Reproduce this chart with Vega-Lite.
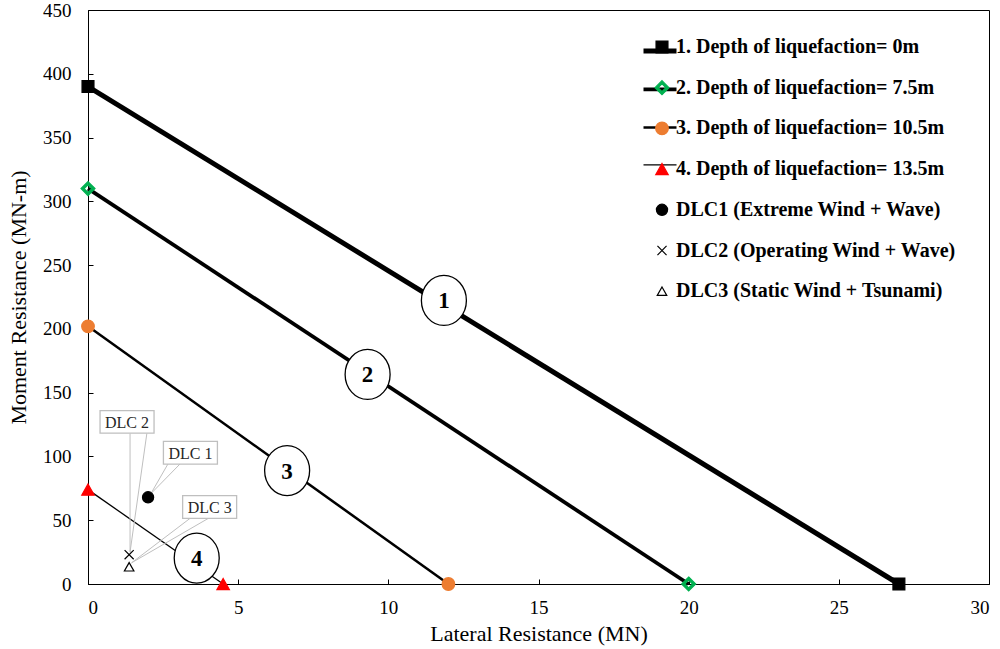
{
  "$schema": "https://vega.github.io/schema/vega-lite/v6.json",
  "width": 901,
  "height": 574,
  "autosize": {"type": "none"},
  "padding": {"left": 88, "top": 10, "right": 11, "bottom": 65},
  "background": "white",
  "config": {
    "view": {"stroke": "black", "strokeWidth": 1},
    "font": "Liberation Serif",
    "axis": {
      "grid": false,
      "domainColor": "black",
      "tickColor": "black",
      "labelColor": "black",
      "titleColor": "black",
      "labelFont": "Liberation Serif",
      "titleFont": "Liberation Serif",
      "labelFontSize": 19,
      "titleFontSize": 22,
      "titleFontWeight": "normal",
      "tickSize": -5
    }
  },
  "datasets": {
    "points": [
      {"label": "1. Depth of liquefaction= 0m", "x": 0, "y": 390},
      {"label": "1. Depth of liquefaction= 0m", "x": 27, "y": 0},
      {"label": "2. Depth of liquefaction= 7.5m", "x": 0, "y": 310},
      {"label": "2. Depth of liquefaction= 7.5m", "x": 20, "y": 0},
      {"label": "3. Depth of liquefaction= 10.5m", "x": 0, "y": 202},
      {"label": "3. Depth of liquefaction= 10.5m", "x": 12, "y": 0},
      {"label": "4. Depth of liquefaction= 13.5m", "x": 0, "y": 74},
      {"label": "4. Depth of liquefaction= 13.5m", "x": 4.5, "y": 0},
      {"label": "DLC1 (Extreme Wind + Wave)", "x": 2.0, "y": 68},
      {"label": "DLC2 (Operating Wind + Wave)", "x": 1.37, "y": 23},
      {"label": "DLC3 (Static Wind + Tsunami)", "x": 1.37, "y": 13.5}
    ],
    "bubbles": [
      {"num": "1", "x": 11.85, "y": 222.3},
      {"num": "2", "x": 9.31, "y": 164.3},
      {"num": "3", "x": 6.63, "y": 88.9},
      {"num": "4", "x": 3.62, "y": 20.3}
    ],
    "callouts": [
      {"text": "DLC 2", "x": 1.30, "y": 127.1},
      {"text": "DLC 1", "x": 3.41, "y": 102.9},
      {"text": "DLC 3", "x": 4.05, "y": 60.4}
    ],
    "leaders": [
      {"callout": "DLC 2", "order": 1, "x": 1.40, "y": 118.1},
      {"callout": "DLC 2", "order": 2, "x": 1.40, "y": 25},
      {"callout": "DLC 2", "order": 3, "x": 1.96, "y": 118.1},
      {"callout": "DLC 1", "order": 1, "x": 2.66, "y": 94},
      {"callout": "DLC 1", "order": 2, "x": 2.09, "y": 70.7},
      {"callout": "DLC 1", "order": 3, "x": 3.06, "y": 94},
      {"callout": "DLC 3", "order": 1, "x": 3.40, "y": 51.5},
      {"callout": "DLC 3", "order": 2, "x": 1.45, "y": 16.6},
      {"callout": "DLC 3", "order": 3, "x": 4.01, "y": 51.5}
    ]
  },
  "layer": [
    {
      "data": {"name": "points"},
      "transform": [{"filter": "test(/Depth/, datum.label)"}],
      "mark": {"type": "line", "color": "black", "strokeCap": "butt"},
      "encoding": {
        "x": {"field": "x", "type": "quantitative", "scale": {"domain": [0, 30], "nice": false},
              "axis": {"title": "Lateral Resistance (MN)", "values": [0, 5, 10, 15, 20, 25, 30], "labelPadding": 19, "titlePadding": 6,
                       "labelFont": "Liberation Serif", "titleFont": "Liberation Serif", "labelFontSize": 19, "titleFontSize": 22}},
        "y": {"field": "y", "type": "quantitative", "scale": {"domain": [0, 450], "nice": false},
              "axis": {"title": "Moment Resistance (MN-m)", "values": [0, 50, 100, 150, 200, 250, 300, 350, 400, 450], "labelPadding": 22, "titlePadding": 12,
                       "labelFont": "Liberation Serif", "titleFont": "Liberation Serif", "labelFontSize": 19, "titleFontSize": 22}},
        "detail": {"field": "label"},
        "strokeWidth": {
          "field": "label", "type": "nominal",
          "scale": {"type": "point", "padding": 0,
                    "domain": ["1. Depth of liquefaction= 0m", "2. Depth of liquefaction= 7.5m", "3. Depth of liquefaction= 10.5m", "4. Depth of liquefaction= 13.5m"],
                    "range": [5, 1.3]},
          "legend": {
            "orient": "none", "legendX": 553, "legendY": 22, "title": null, "padding": 0,
            "symbolType": "stroke", "symbolSize": 1089, "symbolStrokeColor": "black",
            "labelExpr": "''", "labelFont": "Liberation Serif", "labelFontWeight": "bold", "labelFontSize": 20,
            "labelLimit": 500, "rowPadding": 9.8, "labelOffset": 4
          }
        }
      }
    },
    {
      "data": {"name": "leaders"},
      "mark": {"type": "line", "color": "#BFBFBF", "strokeWidth": 1},
      "encoding": {
        "x": {"field": "x", "type": "quantitative"},
        "y": {"field": "y", "type": "quantitative"},
        "detail": {"field": "callout"},
        "order": {"field": "order"}
      }
    },
    {
      "data": {"name": "bubbles"},
      "mark": {"type": "point", "shape": "M-0.9,0A0.9,1 0 1,1 0.9,0A0.9,1 0 1,1 -0.9,0Z", "size": 2500, "filled": true, "fill": "white", "stroke": "black", "strokeWidth": 1.3, "opacity": 1},
      "encoding": {
        "x": {"field": "x", "type": "quantitative"},
        "y": {"field": "y", "type": "quantitative"}
      }
    },
    {
      "data": {"name": "bubbles"},
      "mark": {"type": "text", "font": "Liberation Serif", "fontWeight": "bold", "fontSize": 23, "color": "black", "align": "center", "baseline": "middle", "dy": 1},
      "encoding": {
        "x": {"field": "x", "type": "quantitative"},
        "y": {"field": "y", "type": "quantitative"},
        "text": {"field": "num"}
      }
    },
    {
      "data": {"name": "callouts"},
      "mark": {"type": "point", "shape": "M-1,-0.42H1V0.42H-1Z", "size": 2916, "filled": true, "fill": "white", "stroke": "#BFBFBF", "strokeWidth": 1.3, "opacity": 1},
      "encoding": {
        "x": {"field": "x", "type": "quantitative"},
        "y": {"field": "y", "type": "quantitative"}
      }
    },
    {
      "data": {"name": "callouts"},
      "mark": {"type": "text", "font": "Liberation Serif", "fontSize": 16, "color": "#262626", "align": "center", "baseline": "middle", "dy": 1},
      "encoding": {
        "x": {"field": "x", "type": "quantitative"},
        "y": {"field": "y", "type": "quantitative"},
        "text": {"field": "text"}
      }
    },
    {
      "data": {"name": "points"},
      "mark": {"type": "point", "size": 196, "strokeWidth": 1.2, "opacity": 1},
      "encoding": {
        "x": {"field": "x", "type": "quantitative"},
        "y": {"field": "y", "type": "quantitative"},
        "shape": {
          "field": "label", "type": "nominal",
          "scale": {
            "domain": ["1. Depth of liquefaction= 0m", "2. Depth of liquefaction= 7.5m", "3. Depth of liquefaction= 10.5m", "4. Depth of liquefaction= 13.5m", "DLC1 (Extreme Wind + Wave)", "DLC2 (Operating Wind + Wave)", "DLC3 (Static Wind + Tsunami)"],
            "range": [
              "M-0.85,-0.85H0.85V0.85H-0.85Z",
              "M0,-1L1,0L0,1L-1,0ZM0,-0.55L-0.55,0L0,0.55L0.55,0Z",
              "M-0.9,0A0.9,0.9 0 1,1 0.9,0A0.9,0.9 0 1,1 -0.9,0Z",
              "M0,-0.79L0.89,0.79L-0.89,0.79Z",
              "M-0.8,0A0.8,0.8 0 1,1 0.8,0A0.8,0.8 0 1,1 -0.8,0Z",
              "M-0.65,-0.65L0.65,0.65M-0.65,0.65L0.65,-0.65",
              "M0,-0.6L0.68,0.6L-0.68,0.6Z"
            ]
          },
          "legend": {
            "orient": "none", "legendX": 564, "legendY": 27, "title": null, "padding": 0,
            "symbolSize": 196, "symbolStrokeWidth": 1.2, "symbolOpacity": 1,
            "labelFont": "Liberation Serif", "labelFontWeight": "bold", "labelFontSize": 20, "labelColor": "black",
            "labelLimit": 500, "rowPadding": 20.7, "labelOffset": 4
          }
        },
        "fill": {
          "field": "label", "type": "nominal",
          "scale": {
            "domain": ["1. Depth of liquefaction= 0m", "2. Depth of liquefaction= 7.5m", "3. Depth of liquefaction= 10.5m", "4. Depth of liquefaction= 13.5m", "DLC1 (Extreme Wind + Wave)", "DLC2 (Operating Wind + Wave)", "DLC3 (Static Wind + Tsunami)"],
            "range": ["black", "#00B050", "#ED7D31", "#FF0000", "black", "transparent", "transparent"]
          },
          "legend": {
            "orient": "none", "legendX": 564, "legendY": 27, "title": null, "padding": 0,
            "symbolSize": 196, "symbolStrokeWidth": 1.2, "symbolOpacity": 1,
            "labelFont": "Liberation Serif", "labelFontWeight": "bold", "labelFontSize": 20, "labelColor": "black",
            "labelLimit": 500, "rowPadding": 20.7, "labelOffset": 4
          }
        },
        "stroke": {
          "field": "label", "type": "nominal",
          "scale": {
            "domain": ["1. Depth of liquefaction= 0m", "2. Depth of liquefaction= 7.5m", "3. Depth of liquefaction= 10.5m", "4. Depth of liquefaction= 13.5m", "DLC1 (Extreme Wind + Wave)", "DLC2 (Operating Wind + Wave)", "DLC3 (Static Wind + Tsunami)"],
            "range": ["black", "#00B050", "#ED7D31", "#FF0000", "black", "black", "black"]
          },
          "legend": {
            "orient": "none", "legendX": 564, "legendY": 27, "title": null, "padding": 0,
            "symbolSize": 196, "symbolStrokeWidth": 1.2, "symbolOpacity": 1,
            "labelFont": "Liberation Serif", "labelFontWeight": "bold", "labelFontSize": 20, "labelColor": "black",
            "labelLimit": 500, "rowPadding": 20.7, "labelOffset": 4
          }
        }
      }
    }
  ]
}
